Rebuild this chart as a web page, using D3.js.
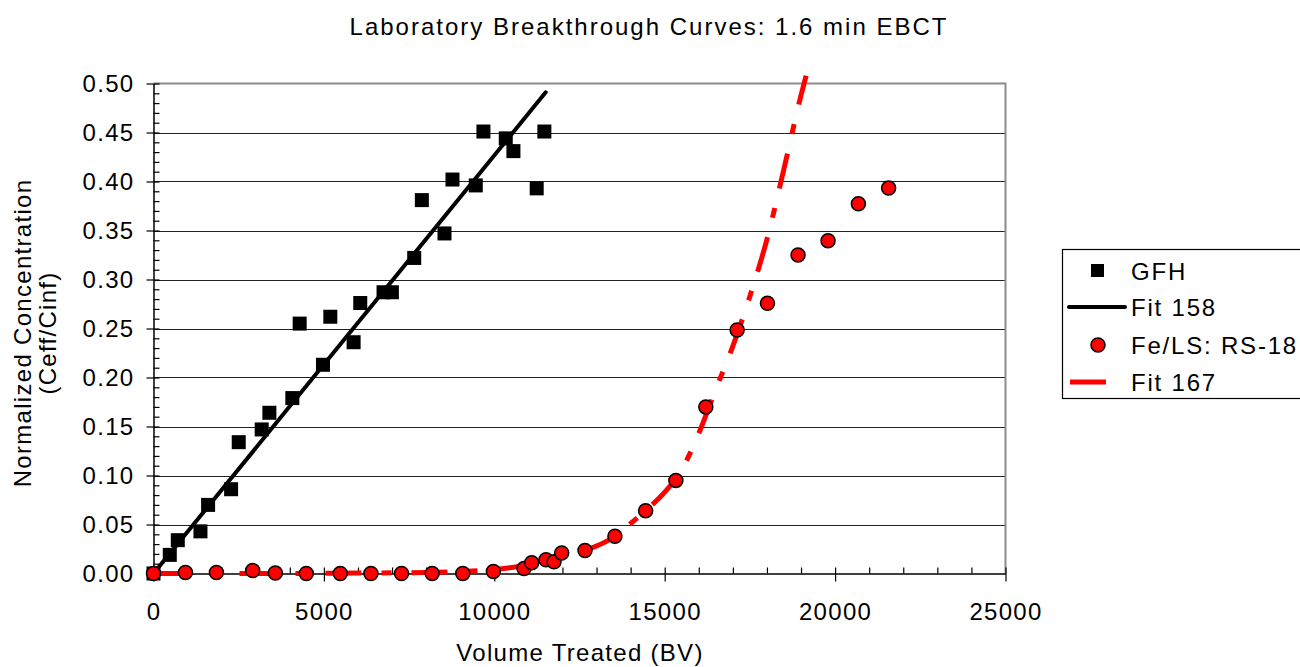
<!DOCTYPE html>
<meta charset="utf-8">
<body style="margin:0;background:white">
<svg width="1300" height="667"></svg>
<script src="https://cdnjs.cloudflare.com/ajax/libs/d3/7.8.5/d3.min.js"></script>
<script>

// GFH measured points
var gfhX = [0, 478, 713, 1378, 1602, 2277, 2501, 3175, 3400, 4074, 4289, 4973, 5188, 5872, 6067, 6750, 6995, 7650, 7874, 8539, 8773, 9457, 9681, 10336, 10561, 11244, 11469]
var gfhY = [0, 0.019, 0.034, 0.043, 0.070, 0.086, 0.134, 0.147, 0.164, 0.179, 0.255, 0.213, 0.262, 0.236, 0.276, 0.287, 0.287, 0.322, 0.381, 0.347, 0.402, 0.396, 0.451, 0.444, 0.431, 0.393, 0.451]

// Fit 158 (straight line)
var fit158X = [0, 11509]
var fit158Y = [0, 0.491]

// Fe/LS: RS-18 measured points
var feX = [0, 938, 1846, 2911, 3576, 4484, 5481, 6380, 7278, 8177, 9075, 9974, 10873, 11098, 11518, 11752, 11977, 12661, 13540, 14440, 15328, 16207, 17125, 18015, 18913, 19793, 20683, 21571]
var feY = [0, 0.001, 0.001, 0.003, 0.0005, 0, 0, 0, 0, 0, 0, 0.002, 0.005, 0.011, 0.014, 0.012, 0.021, 0.0235, 0.038, 0.064, 0.095, 0.170, 0.2485, 0.2757, 0.325, 0.3395, 0.3773, 0.3933]

// Fit 167
var fit167X = [0, 2000, 4000, 6000, 8000, 9000, 10000, 11000, 12000, 13000, 13500, 14000, 14500, 15000, 15500, 16000, 16500, 17000, 17500, 18000, 18500, 19000, 19150]
var fit167Y = [0, 0, 0, 0.0005, 0.001, 0.002, 0.004, 0.009, 0.018, 0.028, 0.037, 0.051, 0.066, 0.083, 0.106, 0.143, 0.188, 0.232, 0.283, 0.341, 0.413, 0.488, 0.508]

var xTicks = [0, 5000, 10000, 15000, 20000, 25000]
var yTicks = [0, 0.05, 0.10, 0.15, 0.20, 0.25, 0.30, 0.35, 0.40, 0.45, 0.50]

var legendLabels = ['GFH', 'Fit 158', 'Fe/LS: RS-18', 'Fit 167']

var font = '"Liberation Sans", Arial, sans-serif'

var svg = d3.select('svg')

var x = d3.scaleLinear().domain([0, 25000]).range([153.5, 1005.5])
var y = d3.scaleLinear().domain([0, 0.5]).range([573.5, 83.5])

// grid
svg.append('g')
  .selectAll('line')
  .data(yTicks.filter(d => d > 0 && d < 0.5))
  .join('line')
  .attr('x1', x(0)).attr('x2', x(25000))
  .attr('y1', d => Math.round(y(d)) + 0.5).attr('y2', d => Math.round(y(d)) + 0.5)
  .attr('stroke', '#222').attr('stroke-width', 1)

// plot border top/right (gray)
svg.append('path')
  .attr('d', `M${x(0)},${y(0.5)}H${x(25000)}V${y(0)}`)
  .attr('fill', 'none').attr('stroke', '#8c8c8c').attr('stroke-width', 2)

// y axis
var yAxis = svg.append('g')
  .attr('transform', `translate(${x(0)},0)`)
  .call(d3.axisLeft(y).tickValues(yTicks).tickFormat(d3.format('.2f')).tickSizeInner(7).tickSizeOuter(0))
svg.append('g')
  .attr('transform', `translate(${x(0)},0)`)
  .call(d3.axisRight(y).tickValues(d3.range(0, 51).map(d => d / 100)).tickFormat('').tickSizeInner(6).tickSizeOuter(0))
  .call(g => g.select('.domain').remove())

// x axis
var xAxis = svg.append('g')
  .attr('transform', `translate(0,${y(0)})`)
  .call(d3.axisBottom(x).tickValues(xTicks).tickFormat(d3.format('d')).tickSizeInner(8).tickSizeOuter(0))
svg.append('g')
  .attr('transform', `translate(0,${y(0)})`)
  .call(d3.axisTop(x).tickValues(d3.range(0, 26).map(d => d * 1000)).tickFormat('').tickSizeInner(6).tickSizeOuter(0))
  .call(g => g.select('.domain').remove())

svg.selectAll('.domain').attr('stroke', '#000').attr('stroke-width', 1.5)
svg.selectAll('.tick line').attr('stroke', '#000').attr('stroke-width', 1.2)

yAxis.selectAll('text')
  .attr('x', -19)
  .style('font-family', font).style('font-size', '24px').style('letter-spacing', '1.3px')
  .attr('fill', '#000')
xAxis.selectAll('text')
  .attr('y', 29)
  .style('font-family', font).style('font-size', '24px').style('letter-spacing', '1.3px')
  .attr('fill', '#000')

// lines
var line = d3.line().x(d => x(d[0])).y(d => y(d[1]))

svg.append('path')
  .datum(d3.zip(fit167X, fit167Y))
  .attr('d', line.curve(d3.curveMonotoneX))
  .attr('fill', 'none').attr('stroke', '#ff0000').attr('stroke-width', 5)
  .attr('stroke-dasharray', '36,20,10,20')

svg.append('path')
  .datum(d3.zip(fit158X, fit158Y))
  .attr('d', line.curve(d3.curveLinear))
  .attr('fill', 'none').attr('stroke', '#000').attr('stroke-width', 4)
  .attr('stroke-linecap', 'round')

// markers
svg.append('g')
  .selectAll('rect')
  .data(d3.zip(gfhX, gfhY))
  .join('rect')
  .attr('x', d => x(d[0]) - 7).attr('y', d => y(d[1]) - 7)
  .attr('width', 14).attr('height', 14)
  .attr('fill', '#000')

svg.append('g')
  .selectAll('circle')
  .data(d3.zip(feX, feY))
  .join('circle')
  .attr('cx', d => x(d[0])).attr('cy', d => y(d[1]))
  .attr('r', 7)
  .attr('fill', '#ff0000').attr('stroke', '#000').attr('stroke-width', 1.5)

// title
svg.append('text')
  .attr('x', 649).attr('y', 35)
  .attr('text-anchor', 'middle')
  .style('font-family', font).style('font-size', '24px').style('letter-spacing', '2px')
  .text('Laboratory Breakthrough Curves: 1.6 min EBCT')

// axis titles
svg.append('text')
  .attr('x', 580).attr('y', 661)
  .attr('text-anchor', 'middle')
  .style('font-family', font).style('font-size', '24px').style('letter-spacing', '1.3px')
  .text('Volume Treated (BV)')

var yl = svg.append('text')
  .attr('transform', 'translate(0,333) rotate(-90)')
  .attr('text-anchor', 'middle')
  .style('font-family', font).style('font-size', '24px').style('letter-spacing', '1.3px')
yl.append('tspan').attr('x', 0).attr('y', 31).text('Normalized Concentration')
yl.append('tspan').attr('x', 0).attr('y', 56).text('(Ceff/Cinf)')

// legend
var lg = svg.append('g')
lg.append('rect')
  .attr('x', 1062.5).attr('y', 249.5).attr('width', 260).attr('height', 149)
  .attr('fill', 'white').attr('stroke', '#000').attr('stroke-width', 1.2)

var rowY = [271, 307, 345, 382]
lg.append('rect').attr('x', 1091).attr('y', rowY[0] - 7).attr('width', 13).attr('height', 13).attr('fill', '#000')
lg.append('line').attr('x1', 1069).attr('x2', 1125).attr('y1', rowY[1]).attr('y2', rowY[1])
  .attr('stroke', '#000').attr('stroke-width', 4).attr('stroke-linecap', 'round')
lg.append('circle').attr('cx', 1098).attr('cy', rowY[2]).attr('r', 7)
  .attr('fill', '#ff0000').attr('stroke', '#000').attr('stroke-width', 1.5)
lg.append('line').attr('x1', 1070).attr('x2', 1106).attr('y1', rowY[3]).attr('y2', rowY[3])
  .attr('stroke', '#ff0000').attr('stroke-width', 5)

lg.selectAll('text.lab')
  .data(legendLabels)
  .join('text')
  .attr('class', 'lab')
  .attr('x', 1131)
  .attr('y', (d, i) => rowY[i] + 9)
  .style('font-family', font).style('font-size', '24px').style('letter-spacing', '1.8px')
  .text(d => d)

</script>
</body>
